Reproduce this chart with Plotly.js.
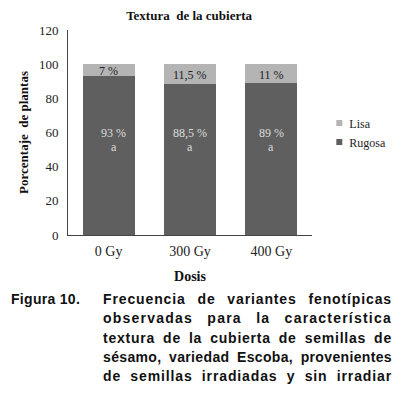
<!DOCTYPE html>
<html>
<head>
<meta charset="utf-8">
<script src="https://cdn.plot.ly/plotly-3.0.1.min.js"></script>
<style>
html,body{margin:0;padding:0;background:#fff;width:403px;height:396px;overflow:hidden;}
#chart{position:absolute;left:0;top:0;width:403px;height:290px;}
#caption{position:absolute;left:11px;top:290px;width:381px;display:flex;
  font-family:"Liberation Sans",Arial,sans-serif;font-weight:bold;font-size:14px;line-height:19.3px;color:#111;}
#caption .lab{width:92px;flex:none;white-space:nowrap;letter-spacing:0.3px;}
#caption .txt{flex:1;}
#caption .line{white-space:nowrap;text-align:justify;text-align-last:justify;overflow:hidden;}
</style>
</head>
<body>
<div id="chart"></div>
<div id="caption"><div class="lab">Figura 10.</div><div class="txt" id="captxt"></div></div>
<script>
const categories = ["0 Gy", "300 Gy", "400 Gy"];
const rugosa = [93, 88.5, 89];
const lisa = [7, 11.5, 11];
const rugosaLabels = ["93 %", "88,5 %", "89 %"];
const lisaLabels = ["7 %", "11,5 %", "11 %"];
const letters = ["a", "a", "a"];
const yTicks = [0, 20, 40, 60, 80, 100, 120];
const rugosaLabelY = 59.5;
const captionLines = [
  "Frecuencia de variantes fenotípicas",
  "observadas para la característica",
  "textura de la cubierta de semillas de",
  "sésamo, variedad Escoba, provenientes",
  "de semillas irradiadas y sin irradiar"
];

// caption: one justified line per source line
const capBox = document.getElementById('captxt');
captionLines.forEach(t => {
  const d = document.createElement('div');
  d.className = 'line';
  d.textContent = t;
  capBox.appendChild(d);
});
const targetW = capBox.getBoundingClientRect().width;
capBox.querySelectorAll('.line').forEach(d => {
  const probe = document.createElement('span');
  probe.textContent = d.textContent;
  probe.style.font = getComputedStyle(d).font;
  probe.style.position = 'absolute';
  probe.style.visibility = 'hidden';
  probe.style.whiteSpace = 'nowrap';
  document.body.appendChild(probe);
  const w = probe.getBoundingClientRect().width;
  probe.remove();
  const n = d.textContent.length;
  const extra = Math.max(0, targetW - w - 1);
  d.style.letterSpacing = (0.6 * extra / n).toFixed(2) + 'px';
});

const serif = 'Liberation Serif, Times New Roman, serif';

const traces = [
  {type:'bar', name:'Rugosa', x:categories, y:rugosa, marker:{color:'#5f5f5f'}, width:0.636, hoverinfo:'none'},
  {type:'bar', name:'Lisa', x:categories, y:lisa, marker:{color:'#b4b4b4'}, width:0.636, hoverinfo:'none'}
];

const annotations = [];
categories.forEach((c, i) => {
  annotations.push({x:c, y:rugosa[i] + lisa[i]/2, xref:'x', yref:'y', text:lisaLabels[i], showarrow:false,
    font:{family:serif, size:12, color:'#222'}, yshift:-1});
  annotations.push({x:c, y:rugosaLabelY, xref:'x', yref:'y', text:rugosaLabels[i], showarrow:false,
    font:{family:serif, size:12, color:'#dcdcdc'}, xshift: i === 0 ? 5 : 0});
  annotations.push({x:c, y:rugosaLabelY, xref:'x', yref:'y', text:letters[i], showarrow:false,
    font:{family:serif, size:12, color:'#dcdcdc'}, yshift:-14, xshift: i === 0 ? 5 : 0});
});

const layout = {
  width:403, height:290,
  margin:{l:68, r:71, t:30, b:55},
  paper_bgcolor:'#fff', plot_bgcolor:'#fff',
  font:{family:serif, color:'#222'},
  barmode:'stack',
  showlegend:true,
  title:{text:'<b>Textura  de la cubierta</b>', x:200/403, xanchor:'center', xref:'paper', y:1-15/290, yref:'container', yanchor:'middle',
    font:{family:serif, size:13, color:'#111'}},
  xaxis:{showline:true, linecolor:'#444', linewidth:1, ticks:'', showgrid:false, zeroline:false,
    tickfont:{family:serif, size:14, color:'#222'}, ticklabelstandoff:3,
    title:{text:'<b>Dosis</b>', font:{family:serif, size:14, color:'#111'}, standoff:13}},
  yaxis:{range:[0,120], tickvals:yTicks, showline:true, linecolor:'#444', linewidth:1, ticks:'', showgrid:false, zeroline:false,
    tickfont:{family:serif, size:13, color:'#222'}, ticklabelstandoff:6,
    title:{text:'<b>Porcentaje  de plantas</b>', font:{family:serif, size:13, color:'#111'}, standoff:7}},
  legend:{x:0.989, xanchor:'left', y:0.50, yanchor:'middle', font:{family:serif, size:12, color:'#222'},
    itemwidth:30, tracegroupgap:0, bgcolor:'rgba(0,0,0,0)'},
  annotations:annotations
};

Plotly.newPlot('chart', traces, layout, {staticPlot:true, displayModeBar:false}).then(gd => {
  // smaller legend swatches, placed close to their labels
  gd.querySelectorAll('.legendpoints path').forEach(p => p.setAttribute('d', 'M13,3H7V-3H13Z'));
});
</script>
</body>
</html>
